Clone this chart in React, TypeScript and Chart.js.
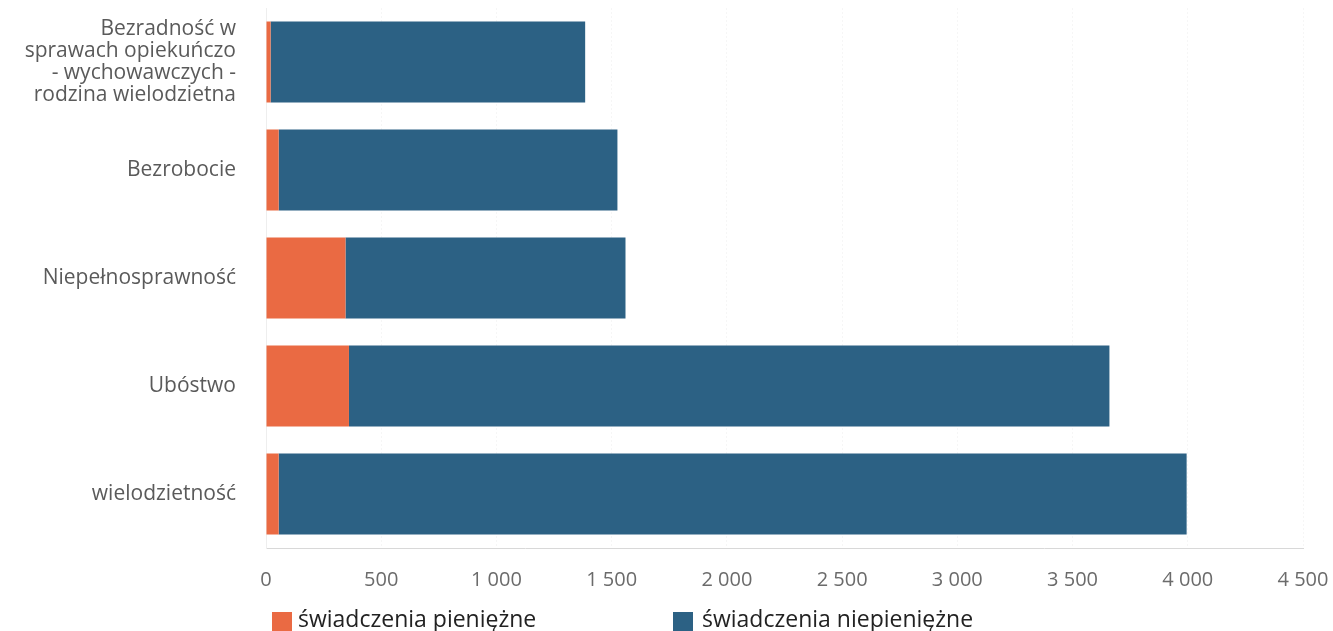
import React, { useEffect, useRef } from "react";
import { Chart, registerables } from "chart.js";

Chart.register(...registerables);

const categories: (string | string[])[] = [
  ["Bezradność w", "sprawach opiekuńczo", "- wychowawczych -", "rodzina wielodzietna"],
  "Bezrobocie",
  "Niepełnosprawność",
  "Ubóstwo",
  "wielodzietność",
];
const pieniezne = [20, 55, 345, 360, 55];
const niepieniezne = [1365, 1470, 1215, 3300, 3940];
const seriesNames = ["świadczenia pieniężne", "świadczenia niepieniężne"];
const seriesColors = ["#EA6A43", "#2C6184"];
const xMin = 0;
const xMax = 4500;
const xStep = 500;

const fmt = (v: number) => String(v).replace(/\B(?=(\d{3})+(?!\d))/g, " ");

export default function App() {
  const ref = useRef<HTMLCanvasElement>(null);
  useEffect(() => {
    document.body.style.margin = "0";
    const chart = new Chart(ref.current!, {
      type: "bar",
      data: {
        labels: categories,
        datasets: [
          { label: seriesNames[0], data: pieniezne, backgroundColor: seriesColors[0] },
          { label: seriesNames[1], data: niepieniezne, backgroundColor: seriesColors[1] },
        ],
      },
      options: {
        indexAxis: "y",
        animation: false,
        responsive: false,
        maintainAspectRatio: false,
        layout: { padding: { top: 8, right: 30, bottom: 19, left: 0 } },
        categoryPercentage: 0.75,
        barPercentage: 1,
        plugins: { legend: { display: false }, tooltip: { enabled: false } },
        scales: {
          x: {
            stacked: true,
            min: xMin,
            max: xMax,
            afterFit: (s: any) => {
              s.paddingLeft = 0;
              s.paddingRight = 0;
            },
            ticks: {
              stepSize: xStep,
              callback: (v: any) => fmt(Number(v)),
              color: "#6b6b6b",
              font: { family: "Open Sans", size: 20 },
              padding: 20,
              maxRotation: 0,
            },
            grid: { color: "rgba(0,0,0,0.035)", drawTicks: false },
            border: { color: "#d8d8d8", dash: [2, 2] },
          },
          y: {
            stacked: true,
            afterFit: (s: any) => {
              s.width = 266;
              s.paddingTop = 0;
              s.paddingBottom = 0;
            },
            ticks: {
              color: "#5a5a5a",
              font: { family: "Open Sans", size: 21, lineHeight: 1.05 },
              padding: 30,
            },
            grid: { display: false, drawTicks: false },
            border: { color: "#eeeeee" },
          },
        },
      },
    });
    return () => chart.destroy();
  }, []);

  const legendText: React.CSSProperties = {
    position: "absolute",
    top: 607,
    fontFamily: "'Open Sans', sans-serif",
    fontSize: 23,
    color: "#222",
    whiteSpace: "nowrap",
    lineHeight: "23px",
  };
  const square: React.CSSProperties = { position: "absolute", top: 612, width: 20, height: 20 };
  return (
    <div style={{ position: "relative", width: 1333, height: 631, background: "#fff", overflow: "hidden" }}>
      <canvas ref={ref} width={1333} height={631} style={{ display: "block" }} />
      <span style={{ ...square, left: 272, background: seriesColors[0] }} />
      <span style={{ ...legendText, left: 298 }}>{seriesNames[0]}</span>
      <span style={{ ...square, left: 673, background: seriesColors[1] }} />
      <span style={{ ...legendText, left: 702 }}>{seriesNames[1]}</span>
    </div>
  );
}
